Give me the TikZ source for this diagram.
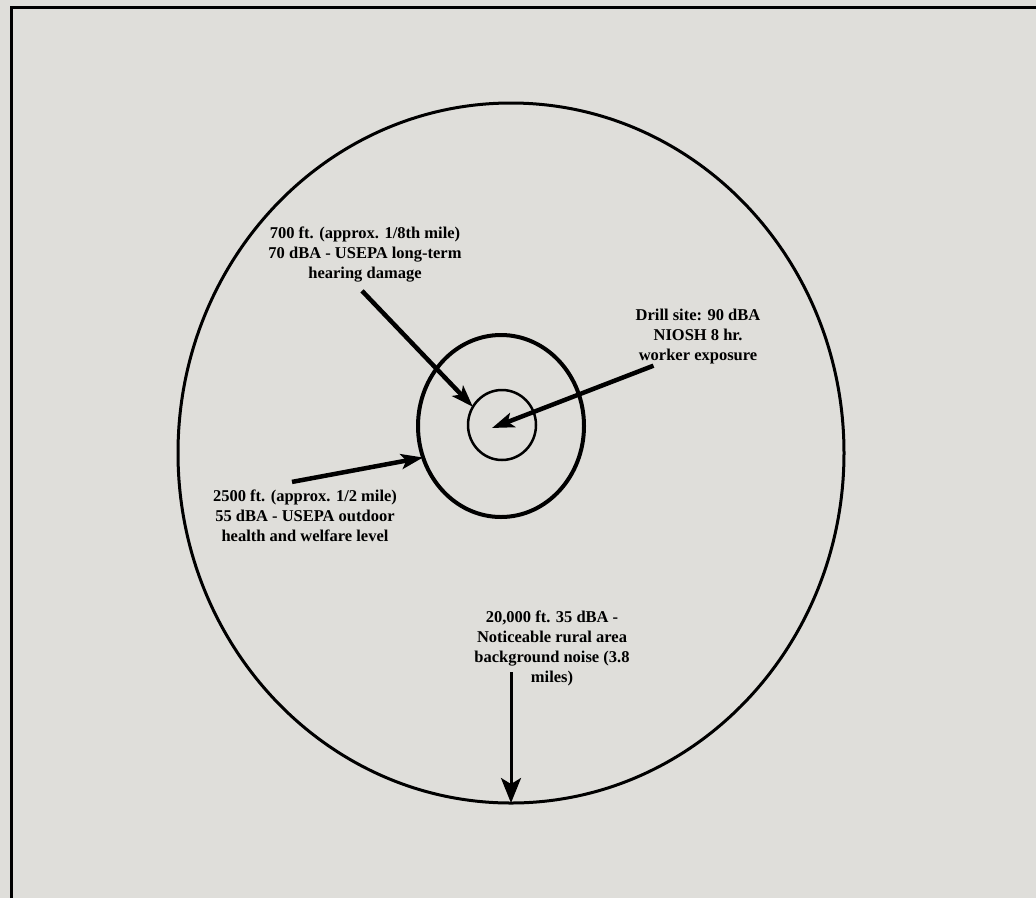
\documentclass[tikz,border=0pt]{standalone}
\usepackage{fontspec}
\setmainfont{Liberation Serif}
\usepackage{tikz}
\usetikzlibrary{arrows.meta}
\usetikzlibrary{shapes.geometric}
\definecolor{paper}{RGB}{223,222,218}

\begin{document}
\begin{tikzpicture}[x=1pt, y=-1pt,
    ring/.style={draw, ellipse, inner sep=0pt, outer sep=0pt},
    lbl/.style={align=center, inner sep=0pt, font=\fontsize{16.5}{20}\selectfont\bfseries},
    arr/.style={-{Stealth[length=22pt, width=15pt, inset=5pt]}, line width=4.5pt}]

    \fill[paper] (0,0) rectangle (1036,898);
    \useasboundingbox (0,0) rectangle (1036,898);
    \draw[line width=3pt] (11,898) -- (11,7) -- (1036,7);

    \node[ring, line width=3pt, minimum width=666pt, minimum height=700pt] (big) at (511,453) {};
    \node[ring, line width=4pt, minimum width=166pt, minimum height=182pt] (mid) at (501,426) {};
    \node[ring, line width=2.5pt, minimum width=68pt, minimum height=70pt] (small) at (502,425) {};

    \node[lbl] (l700) at (365,255) {700 ft. (approx. 1/8th mile)\\70 dBA - USEPA long-term\\hearing damage};
    \node[lbl] (drill) at (698,337) {Drill site: 90 dBA\\NIOSH 8 hr.\\worker exposure};
    \node[lbl] (l2500) at (305,516) {2500 ft. (approx. 1/2 mile)\\55 dBA - USEPA outdoor\\health and welfare level};
    \node[lbl] (l20000) at (552,648) {20,000 ft. 35 dBA -\\Noticeable rural area\\background noise (3.8\\miles)};

    \coordinate (hit) at (492,428);
    \coordinate (top) at (511,672);

    \draw[arr] ([xshift=-3pt,yshift=-8pt]l700.south) -- (small.148);
    \draw[arr] ([xshift=18pt,yshift=-1pt]drill.south west) -- (hit);
    \draw[arr] ([xshift=-13pt,yshift=8pt]l2500.north) -- (mid.202);
    \draw[line width=3pt, -{Stealth[length=25pt, width=20pt, inset=6pt]}] (top) -- (big.south);

\end{tikzpicture}
\end{document}
